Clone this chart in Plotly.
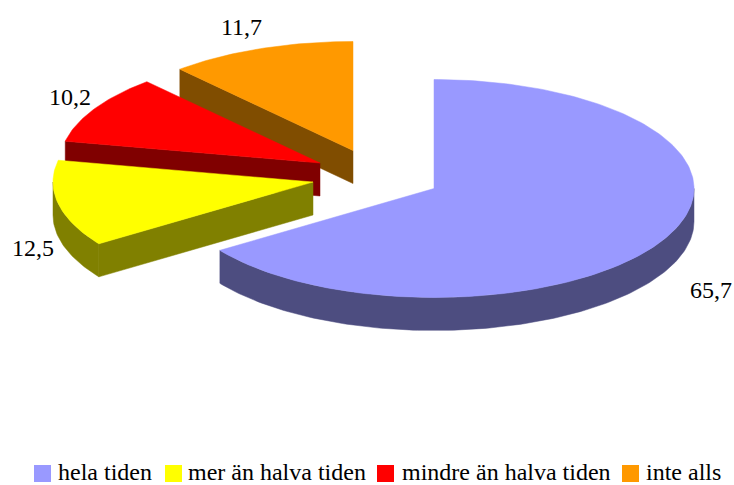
import math
import plotly.graph_objects as go

categories = ["hela tiden", "mer än halva tiden", "mindre än halva tiden", "inte alls"]
value_labels = ["65,7", "12,5", "10,2", "11,7"]
slice_shares = [65.4, 12.8, 10.2, 11.6]
top_colors = ["#9999FF", "#FFFF00", "#FF0000", "#FF9900"]
side_colors = ["#4D4D80", "#808000", "#800000", "#804D00"]
apex_x = [434, 313, 320, 353]
apex_y = [188.5, 182, 163, 150.5]
label_x = [710.5, 33, 70, 241]
label_y = [290, 248, 97, 27]
legend_marker_x = [42.5, 173.5, 385.5, 630.5]
legend_text_x = [57, 187, 401, 645]
draw_order = [3, 2, 1, 0]

RX, RY, DEPTH = 260, 109, 33
LEGEND_MARKER_Y = 473.5
LEGEND_TEXT_Y = 471.5
FONT = "Liberation Serif, Times New Roman, serif"

total = sum(slice_shares)
bounds = [0.0]
for v in slice_shares:
    bounds.append(bounds[-1] + v / total * 360)


def rim(i, a0, a1, dy=0):
    n = max(2, int(abs(a1 - a0)) + 2)
    pts = [a0 + (a1 - a0) * k / (n - 1) for k in range(n)]
    return ([apex_x[i] + RX * math.sin(math.radians(a)) for a in pts],
            [apex_y[i] - RY * math.cos(math.radians(a)) + dy for a in pts])


def poly(fig, xs, ys, color):
    fig.add_trace(go.Scatter(x=xs + xs[:1], y=ys + ys[:1], mode="lines", fill="toself",
                             fillcolor=color, line=dict(color=color, width=0.5),
                             hoverinfo="skip", showlegend=False))


fig = go.Figure()
for i in draw_order:
    a0, a1 = bounds[i], bounds[i + 1]
    # outer wall: the part of the rim that faces the viewer (90..270 deg)
    w0, w1 = max(a0, 90), min(a1, 270)
    if w1 > w0:
        xt, yt = rim(i, w0, w1)
        xb, yb = rim(i, w0, w1, DEPTH)
        poly(fig, xt + xb[::-1], yt + yb[::-1], side_colors[i])
    # cut face at the leading edge
    if i > 0:
        x0 = apex_x[i] + RX * math.sin(math.radians(a0))
        y0 = apex_y[i] - RY * math.cos(math.radians(a0))
        poly(fig, [apex_x[i], x0, x0, apex_x[i]],
             [apex_y[i], y0, y0 + DEPTH, apex_y[i] + DEPTH], side_colors[i])
    xr, yr = rim(i, a0, a1)
    poly(fig, [apex_x[i]] + xr, [apex_y[i]] + yr, top_colors[i])

for name, c, mx, tx in zip(categories, top_colors, legend_marker_x, legend_text_x):
    fig.add_trace(go.Scatter(x=[mx], y=[LEGEND_MARKER_Y], mode="markers", name=name,
                             marker=dict(symbol="square", size=17, color=c),
                             hoverinfo="name", showlegend=False))
    fig.add_annotation(x=tx, y=LEGEND_TEXT_Y, text=name, showarrow=False, xanchor="left",
                       xshift=-1, font=dict(family=FONT, size=24, color="#000000"))

for t, x, y in zip(value_labels, label_x, label_y):
    fig.add_annotation(x=x, y=y, text=t, showarrow=False,
                       font=dict(family=FONT, size=24, color="#000000"))

fig.update_layout(
    width=734, height=485, margin=dict(l=0, r=0, t=0, b=0),
    paper_bgcolor="white", plot_bgcolor="white", showlegend=False,
    xaxis=dict(range=[0, 734], visible=False, fixedrange=True),
    yaxis=dict(range=[485, 0], visible=False, fixedrange=True),
)
fig.write_html("out.html", config={"displayModeBar": False},
               post_script="document.body.style.margin='0';document.body.style.overflow='hidden';")
